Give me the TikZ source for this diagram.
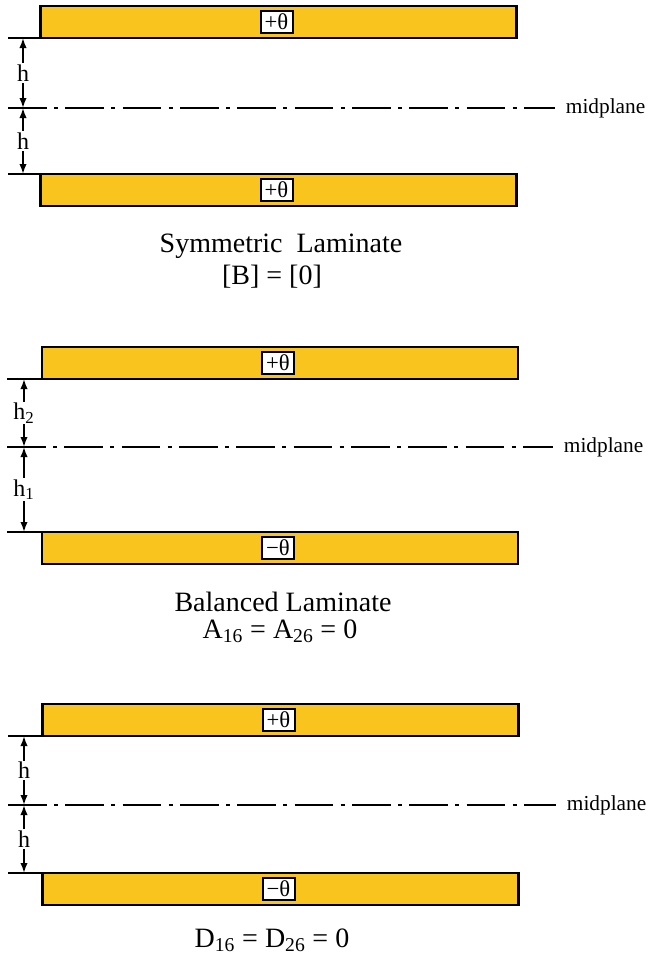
\documentclass[tikz,border=0pt]{standalone}
\usepackage{fontspec}
\setmainfont{Liberation Serif}
\usetikzlibrary{positioning,arrows.meta}
\definecolor{plategold}{HTML}{F8C41D}
\tikzset{
  plate/.style  ={draw, fill=plategold, line width=1.6pt, minimum width=357pt, minimum height=24pt, inner sep=0pt, outer sep=0pt},
  ply/.style    ={draw, fill=white, line width=1.5pt, minimum width=24pt, minimum height=17pt, inner sep=0pt, font=\fontsize{17}{19}\selectfont},
  ledge/.style  ={line width=1.6pt},
  midline/.style={line width=2pt, dash pattern=on 29pt off 5.5pt on 3pt off 5.5pt},
  midlab/.style ={anchor=west, inner xsep=8pt, inner ysep=0pt, font=\fontsize{16}{18}\selectfont},
  dimarr/.style ={{Latex[length=7.5pt,width=5.5pt]}-{Latex[length=7.5pt,width=5.5pt]}, line width=1.3pt},
  hlab/.style   ={fill=white, inner sep=1pt, font=\fontsize{18}{20}\selectfont},
  title/.style  ={anchor=base, inner sep=0pt, font=\fontsize{21}{25}\selectfont},
}

\begin{document}
\begin{tikzpicture}[x=0.75pt, y=-0.75pt]
  \useasboundingbox (0,0) rectangle (650,957);

  % Symmetric laminate: +theta / +theta
  \node[plate] (p1t) at (278.5,22)  {};
  \node[ply]   (ply1t) at ([xshift=-1.5pt]p1t.center) {+θ};
  \node[plate] (p1b) at (278.5,190) {};
  \node[ply]   (ply1b) at ([xshift=-1.5pt]p1b.center) {+θ};
  \coordinate (m1) at (8,108);
  \draw[ledge] (p1t.south west) -- (p1t.south west -| m1);
  \draw[ledge] (p1b.north west) -- (p1b.north west -| m1);
  \node[midlab] (mid1) at (555,108) {midplane};
  \draw[midline] (m1) -- (mid1);
  \coordinate (d1m) at (23,108);
  \coordinate (d1t) at (p1t.south west -| d1m);
  \coordinate (d1b) at (p1b.north west -| d1m);
  \draw[dimarr] (d1t) -- node[hlab] {h} (d1m);
  \draw[dimarr] (d1m) -- node[hlab] {h} (d1b);
  \node[title] (sym)  at (281,252) {Symmetric~~Laminate};
  \node[title] (symB) at (272,284) {[B] = [0]};

  % Balanced laminate: +theta / -theta
  \node[plate] (p2t) at (280,363) {};
  \node[ply]   (ply2t) at ([xshift=-1.5pt]p2t.center) {+θ};
  \node[plate] (p2b) at (280,548) {};
  \node[ply]   (ply2b) at ([xshift=-1.5pt]p2b.center) {−θ};
  \coordinate (m2) at (7,447);
  \draw[ledge] (p2t.south west) -- (p2t.south west -| m2);
  \draw[ledge] (p2b.north west) -- (p2b.north west -| m2);
  \node[midlab] (mid2) at (553,447) {midplane};
  \draw[midline] (m2) -- (mid2);
  \coordinate (d2m) at (24,447);
  \coordinate (d2t) at (p2t.south west -| d2m);
  \coordinate (d2b) at (p2b.north west -| d2m);
  \draw[dimarr] (d2t) -- node[hlab] {h\textsubscript{2}} (d2m);
  \draw[dimarr] (d2m) -- node[hlab] {h\textsubscript{1}} (d2b);
  \node[title] (bal)  at (283,611) {Balanced Laminate};
  \node[title] (balA) at (280,638) {A\textsubscript{16} = A\textsubscript{26} = 0};

  % +theta / -theta, equal spacing
  \node[plate] (p3t) at (280.5,720) {};
  \node[ply]   (ply3t) at ([xshift=-1.5pt]p3t.center) {+θ};
  \node[plate] (p3b) at (280.5,889) {};
  \node[ply]   (ply3b) at ([xshift=-1.5pt]p3b.center) {−θ};
  \coordinate (m3) at (8,805);
  \draw[ledge] (p3t.south west) -- (p3t.south west -| m3);
  \draw[ledge] (p3b.north west) -- (p3b.north west -| m3);
  \node[midlab] (mid3) at (556,805) {midplane};
  \draw[midline] (m3) -- (mid3);
  \coordinate (d3m) at (24,805);
  \coordinate (d3t) at (p3t.south west -| d3m);
  \coordinate (d3b) at (p3b.north west -| d3m);
  \draw[dimarr] (d3t) -- node[hlab] {h} (d3m);
  \draw[dimarr] (d3m) -- node[hlab] {h} (d3b);
  \node[title] (bendD) at (272,947) {D\textsubscript{16} = D\textsubscript{26} = 0};
\end{tikzpicture}
\end{document}
